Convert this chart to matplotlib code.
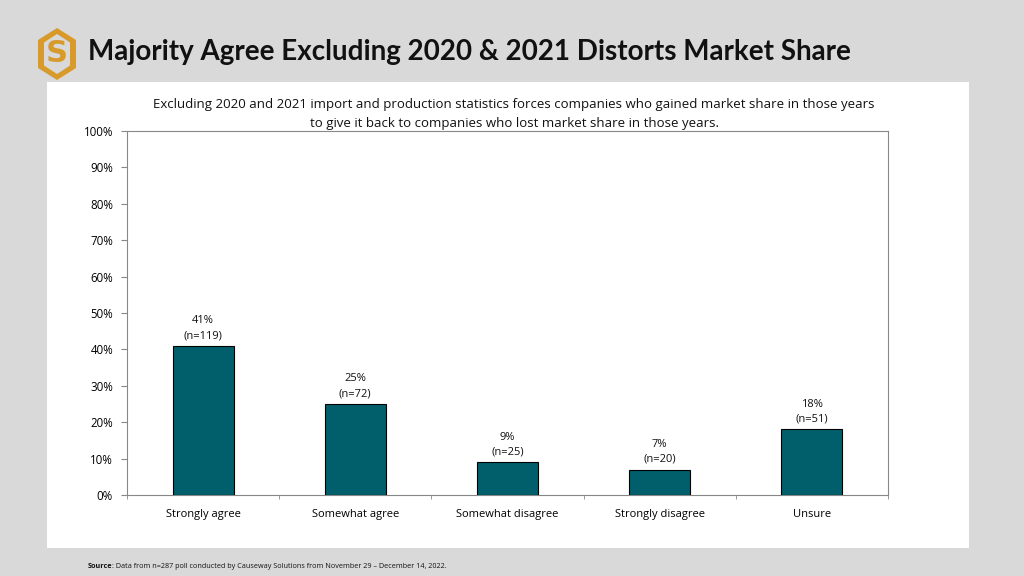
import matplotlib.pyplot as plt
from matplotlib.patches import Rectangle, Polygon
import numpy as np

categories = ['Strongly agree', 'Somewhat agree', 'Somewhat disagree', 'Strongly disagree', 'Unsure']
pcts = [41, 25, 9, 7, 18]
counts = [119, 72, 25, 20, 51]
yticks = [0, 10, 20, 30, 40, 50, 60, 70, 80, 90, 100]

title = 'Majority Agree Excluding 2020 & 2021 Distorts Market Share'
subtitle = ('Excluding 2020 and 2021 import and production statistics forces companies who gained market share in those years\n'
            'to give it back to companies who lost market share in those years.')
source = ': Data from n=287 poll conducted by Causeway Solutions from November 29 – December 14, 2022.'

W, H = 1024, 576
fig = plt.figure(figsize=(W / 100, H / 100), dpi=100)
fig.patch.set_facecolor('#d9d9d9')

# white panel
fig.patches.append(Rectangle((47 / W, 1 - 548 / H), (969 - 47) / W, (548 - 82) / H,
                             transform=fig.transFigure, facecolor='white', edgecolor='none', zorder=-1))

# logo: hexagon with an S, drawn in its own pixel-sized axes
lax = fig.add_axes([37 / W, 1 - 81 / H, 40 / W, 54 / H])
lax.set_xlim(0, 40)
lax.set_ylim(0, 54)
lax.axis('off')
hexa = [(20, 53), (39, 41), (39, 13), (20, 1), (1, 13), (1, 41)]
lax.add_patch(Polygon(hexa, closed=True, facecolor='#d89a2b', edgecolor='none'))
inner = [(20, 47), (33, 38.5), (33, 15.5), (20, 7), (7, 15.5), (7, 38.5)]
lax.add_patch(Polygon(inner, closed=True, facecolor='#d9d9d9', edgecolor='none'))
lax.text(20, 27, 'S', ha='center', va='center', fontsize=22, fontweight='bold',
         color='#d89a2b', family='DejaVu Sans')

fig.text(88 / W, 1 - 52 / H, title, ha='left', va='center', fontsize=20,
         fontweight='bold', color='#111111', family='Lato')

fig.text(514 / W, 1 - 114 / H, subtitle, ha='center', va='center', fontsize=9.5,
         family='Open Sans', linespacing=1.6, color='#111111')

t = fig.text(88 / W, 1 - 566 / H, 'Source', ha='left', va='center', fontsize=5.2,
             family='Open Sans', fontweight='bold', color='#111111')
fig.canvas.draw()
bb = t.get_window_extent()
fig.text(bb.x1 / W, 1 - 566 / H, source, ha='left', va='center', fontsize=5.2,
         family='Open Sans', color='#111111')

ax = fig.add_axes([127 / W, 1 - 495 / H, (888 - 127) / W, (495 - 131) / H])
ax.set_zorder(2)
x = np.arange(len(categories))
ax.bar(x, pcts, width=0.4, color='#005f6b', edgecolor='black', linewidth=0.8, zorder=3)
for xi, p, n in zip(x, pcts, counts):
    ax.text(xi, p + 1.3, '%d%%\n(n=%d)' % (p, n), ha='center', va='bottom', fontsize=8,
            family='Open Sans', linespacing=1.5, color='#111111')

ax.set_xlim(-0.5, len(categories) - 0.5)
ax.set_ylim(0, 100)
ax.set_yticks(yticks)
ax.set_yticklabels(['%d%%' % t for t in yticks], family='Open Sans', fontsize=8.3)
ax.set_xticks(x)
ax.set_xticklabels(categories, family='Open Sans', fontsize=8)
ax.set_xticks(np.arange(len(categories) + 1) - 0.5, minor=True)
ax.tick_params(axis='x', which='major', length=0, pad=10)
ax.tick_params(axis='x', which='minor', length=3, color='#888888')
ax.tick_params(axis='y', length=4, color='#888888', pad=6)
for s in ax.spines.values():
    s.set_color('#888888')
    s.set_linewidth(0.8)

fig.savefig('out.png', dpi=100, facecolor=fig.get_facecolor())
